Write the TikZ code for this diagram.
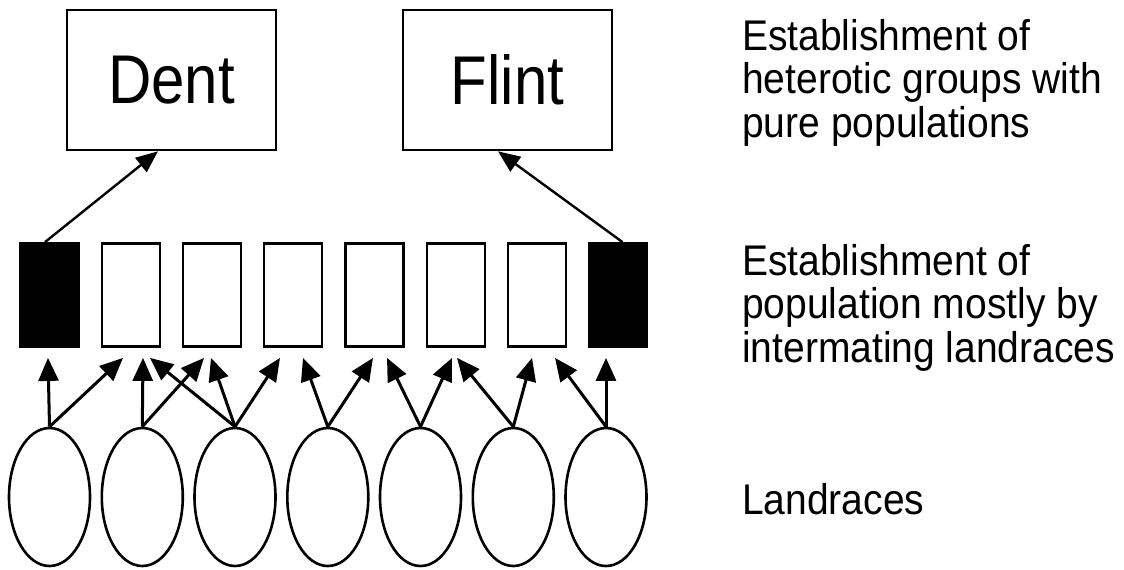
\documentclass[tikz,border=0pt]{standalone}
\usepackage{fontspec}
\setmainfont{Liberation Sans}
\usetikzlibrary{shapes.geometric,arrows.meta}
\newcommand{\tallbox}[2]{\scalebox{1}[#1]{#2}}
\begin{document}
\begin{tikzpicture}[x=1pt,y=-1pt,
  bigbox/.style={draw,line width=2.6pt,minimum width=209pt,minimum height=140pt,inner sep=0pt,font=\fontsize{60}{66}\selectfont},
  popw/.style={draw,line width=2.8pt,fill=white,minimum width=58pt,minimum height=103pt,inner sep=0pt},
  popb/.style={popw,fill=black},
  land/.style={draw,ellipse,line width=2.6pt,minimum width=81pt,minimum height=138pt,inner sep=0pt},
  uparrow/.style={line width=3pt,-{Triangle[length=23pt,width=20pt]}},
  toparrow/.style={line width=2.4pt,-{Triangle[length=22pt,width=18pt]}},
  note/.style={anchor=base west,inner sep=0pt,font=\fontsize{39}{39}\selectfont}
]
\useasboundingbox (0,0) rectangle (1124,570);
% top boxes
\node[bigbox] (D) at (171.5,80) {\tallbox{1.15}{Dent}};
\node[bigbox] (F) at (507.5,80) {\tallbox{1.15}{Flint}};
% populations
\node[popb] (r1) at (49.5,295) {};
\node[popw] (r2) at (131,295) {};
\node[popw] (r3) at (212,295) {};
\node[popw] (r4) at (293,295) {};
\node[popw] (r5) at (374.5,295) {};
\node[popw] (r6) at (456,295) {};
\node[popw] (r7) at (537,295) {};
\node[popb] (r8) at (618,295) {};
% landraces
\node[land] (e1) at (49.5,497) {};
\node[land] (e2) at (142.3,497) {};
\node[land] (e3) at (235,497) {};
\node[land] (e4) at (327.8,497) {};
\node[land] (e5) at (420.5,497) {};
\node[land] (e6) at (513.3,497) {};
\node[land] (e7) at (606,497) {};
% arrows to heterotic groups
\draw[toparrow] ([xshift=-4.5pt]r1.north) -- ([xshift=-13.5pt]D.south);
\draw[toparrow] ([xshift=4.5pt]r8.north) -- ([xshift=-9.5pt]F.south);
% arrows landraces -> populations
\draw[uparrow] (e1.north) -- ([xshift=-1.5pt,yshift=-10pt]r1.south);
\draw[uparrow] (e1.north) -- ([xshift=-8pt,yshift=-10pt]r2.south);
\draw[uparrow] (e2.north) -- ([xshift=12pt,yshift=-10pt]r2.south);
\draw[uparrow] (e2.north) -- ([xshift=-8pt,yshift=-10pt]r3.south);
\draw[uparrow] (e3.north) -- ([xshift=19pt,yshift=-10pt]r2.south);
\draw[uparrow] (e3.north) -- ([xshift=-1pt,yshift=-10pt]r3.south);
\draw[uparrow] (e3.north) -- ([xshift=-13pt,yshift=-10pt]r4.south);
\draw[uparrow] (e4.north) -- ([xshift=10pt,yshift=-10pt]r4.south);
\draw[uparrow] (e4.north) -- ([xshift=-1.5pt,yshift=-10pt]r5.south);
\draw[uparrow] (e5.north) -- ([xshift=12.5pt,yshift=-10pt]r5.south);
\draw[uparrow] (e5.north) -- ([xshift=-4pt,yshift=-10pt]r6.south);
\draw[uparrow] (e6.north) -- ([xshift=1pt,yshift=-10pt]r6.south);
\draw[uparrow] (e6.north) -- ([xshift=-5pt,yshift=-10pt]r7.south);
\draw[uparrow] (e7.north) -- ([xshift=18pt,yshift=-10pt]r7.south);
\draw[uparrow] (e7.north) -- ([xshift=-12pt,yshift=-10pt]r8.south);
% side notes
\node[note] (n1) at (742,50) {\tallbox{1.1}{\begin{tabular}[t]{@{}l@{}}Establishment of\\heterotic groups with\\pure populations\end{tabular}}};
\node[note] (n2) at (742,275) {\tallbox{1.1}{\begin{tabular}[t]{@{}l@{}}Establishment of\\population mostly by\\intermating landraces\end{tabular}}};
\node[note] (n3) at (742,514) {\tallbox{1.1}{Landraces}};
\end{tikzpicture}
\end{document}
